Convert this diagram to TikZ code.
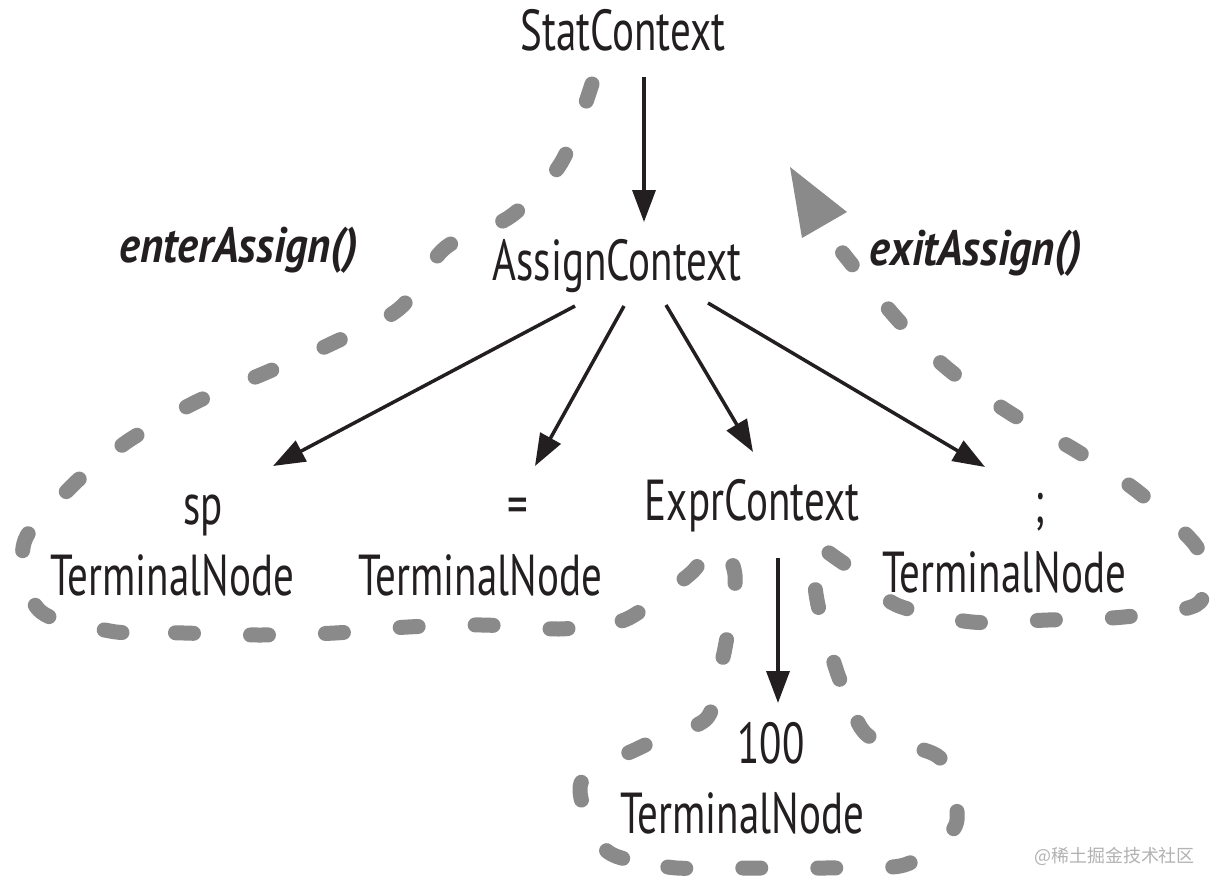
\documentclass[tikz,border=0pt]{standalone}
\usepackage{fontspec}
\setmainfont{PT Sans}[FakeStretch=0.71]
\newfontfamily\fnfont{PT Sans}[FakeStretch=0.89]
\newfontfamily\cjkfont{Noto Sans CJK SC}
\usetikzlibrary{arrows.meta,calc}
\definecolor{trailgray}{HTML}{8A8A8A}
\definecolor{ink}{HTML}{231F20}
\tikzset{
  lbl/.style={anchor=base, inner sep=0pt, text=ink, font=\fontsize{58}{70}\selectfont},
  fn/.style={anchor=base, inner sep=0pt, text=ink, font=\fnfont\fontsize{50}{60}\selectfont\bfseries\itshape},
  arr/.style={draw=ink, line width=3.5bp, -{Triangle[length=32bp,width=23bp]}},
  trail/.style={draw=trailgray, line width=15bp, line cap=round, line join=round, dash pattern=on 18bp off 57bp},
  midgap/.style={trail, dash phase=46.5bp},
  trailhead/.style={fill=trailgray},
  wmark/.style={anchor=base east, inner sep=0pt, text=black!30, font=\cjkfont\fontsize{18}{18}\selectfont}
}
\begin{document}
\begin{tikzpicture}[x=1bp,y=-1bp]
\useasboundingbox[fill=white] (0,0) rectangle (1220,888);
% traversal trail (drawn in pieces that meet inside gaps)
\draw[trail] plot[smooth, tension=0.55] coordinates {
 (592,84) (561,163) (511,216) (445,248) (400,308) (333,343) (265,373) (196,402) (131,439) (102,462)};
\draw[midgap] plot[smooth, tension=0.55] coordinates {
 (102,462) (73,485) (24,543) (39,610) (110,631) (147,632)};
\draw[midgap] plot[smooth, tension=0.55] coordinates {
 (147,632) (184,633) (259,635) (335,633) (408,627) (482,625) (559,629) (594,624)};
\draw[midgap] plot[smooth, tension=0.55] coordinates {
 (594,624) (629,618) (690,574) (715,545) (735,575) (725,648) (715,684)};
\draw[midgap] plot[smooth, tension=0.55] coordinates {
 (715,684) (705,720) (641,747) (581,783) (604,848) (640,861)};
\draw[midgap] plot[smooth, tension=0.55] coordinates {
 (640,861) (677,868) (750,868) (825,868) (900,866) (933,848)};
\draw[midgap] plot[smooth, tension=0.55] coordinates {
 (933,848) (957,820) (940,758) (870,737) (852,705)};
\draw[midgap] plot[smooth, tension=0.55] coordinates {
 (852,705) (837,672) (817,600) (815,549) (839,560) (869,583)};
\draw[midgap] plot[smooth, tension=0.55] coordinates {
 (869,583) (899,606) (972,622) (1048,620) (1124,617) (1196,605) (1208,574)};
\draw[midgap] plot[smooth, tension=0.55] coordinates {
 (1208,574) (1193,542) (1137,491) (1075,450) (1010,413) (948,369) (898,320) (842.6,252.8)};
\fill[trailhead] (790,167) -- (847,212) -- (802,238) -- cycle;
% nodes
\node[lbl] (stat) at (623,50) {StatContext};
\node[lbl] (assign) at (617,280) {AssignContext};
\node[fn] (enter) at (239,262) {enterAssign()};
\node[fn] (exit) at (976,265) {exitAssign()};
\node[lbl] (sp) at (203,524) {sp};
\node[lbl] (spT) at (172,595) {TerminalNode};
\node[lbl] (eq) at (518,524) {=};
\node[lbl] (eqT) at (480,595) {TerminalNode};
\node[lbl] (expr) at (752,520) {ExprContext};
\node[lbl] (semi) at (1040,522) {;};
\node[lbl] (semiT) at (1004,592) {TerminalNode};
\node[lbl] (hundred) at (771,763) {100};
\node[lbl] (hundredT) at (742,833) {TerminalNode};
% connectors
\draw[arr] ($(stat.base)+(21,27)$) -- ($(assign.base)+(27,-58)$);
\draw[arr] ($(assign.base)+(-42,26)$) -- ($(sp.base)+(70,-58)$);
\draw[arr] ($(assign.base)+(7,26)$) -- ($(eq.base)+(17,-58)$);
\draw[arr] ($(assign.base)+(49,25)$) -- ($(expr.base)+(1,-68)$);
\draw[arr] ($(assign.base)+(91,23)$) -- ($(semi.base)+(-55,-55)$);
\draw[arr] ($(expr.base)+(26,38)$) -- ($(hundred.base)+(7,-60)$);
% watermark
\node[wmark] (wm) at (1195,862) {@稀土掘金技术社区};
\end{tikzpicture}
\end{document}
